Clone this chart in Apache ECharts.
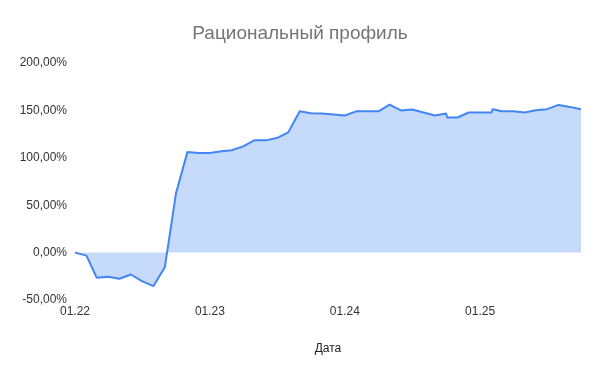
<!DOCTYPE html>
<html>
<head>
<meta charset="utf-8">
<script src="https://cdn.jsdelivr.net/npm/echarts@6/dist/echarts.min.js"></script>
<style>html,body{margin:0;padding:0;background:#fff}#c{width:600px;height:371px}</style>
</head>
<body>
<div id="c"></div>
<script>
var dates = ["2022-01-01","2022-02-01","2022-03-01","2022-04-01","2022-05-01","2022-06-01","2022-07-01","2022-08-01","2022-09-01","2022-10-01","2022-11-01","2022-12-01",
"2023-01-01","2023-02-01","2023-03-01","2023-04-01","2023-05-01","2023-06-01","2023-07-01","2023-08-01","2023-09-01","2023-10-01","2023-11-01","2023-12-01",
"2024-01-01","2024-02-01","2024-03-01","2024-04-01","2024-05-01","2024-06-01","2024-07-01","2024-08-01","2024-09-01","2024-10-01","2024-10-04","2024-11-01","2024-12-01",
"2025-01-01","2025-02-01","2025-02-04","2025-03-01","2025-04-01","2025-05-01","2025-06-01","2025-07-01","2025-08-01","2025-09-01","2025-10-01"];
var values = [0,-3.2,-26.6,-25.5,-27.6,-23.1,-30.1,-35.4,-15.5,62,106,105,
105,107,108,112,118.4,118.4,120.8,126.8,149,147,146.7,145.7,
144.6,149,149,149,156,150,151,147.8,144.6,146.7,142.5,142.5,147.8,
147.8,147.8,151.3,149.2,149.2,147.8,150.2,151.3,155.8,153.7,151.3];
var yTicks = [-50,0,50,100,150,200];
var xMin = "2022-01-01", xMax = "2025-10-01";

function toTs(s){var p=s.split('-');return new Date(+p[0],+p[1]-1,+p[2]).getTime();}
var data = dates.map(function(d,i){return [toTs(d), values[i]];});

var chart = echarts.init(document.getElementById('c'), null, {renderer:'canvas'});
chart.setOption({
  animation:false,
  title:{text:'Рациональный профиль',left:'center',top:19,textStyle:{fontFamily:'Liberation Sans, Arial, sans-serif',fontSize:19,fontWeight:'normal',color:'#757575'}},
  grid:{left:75,right:19,top:63,bottom:71,containLabel:false},
  xAxis:{
    type:'time',min:toTs(xMin),max:toTs(xMax),
    minInterval:365*86400000,maxInterval:366*86400000,
    name:'Дата',nameLocation:'middle',nameGap:43,
    nameTextStyle:{fontFamily:'Liberation Sans, Arial, sans-serif',fontSize:12,color:'#222'},
    axisLine:{show:false},axisTick:{show:false},splitLine:{show:false},
    axisLabel:{margin:6,fontFamily:'Liberation Sans, Arial, sans-serif',fontSize:12,color:'#333',hideOverlap:false,
      formatter:function(v){var d=new Date(v);var m=d.getMonth()+1;return (m<10?'0':'')+m+'.'+String(d.getFullYear()).slice(2);}}
  },
  yAxis:{
    type:'value',min:yTicks[0],max:yTicks[yTicks.length-1],interval:50,
    axisLine:{show:false},axisTick:{show:false},splitLine:{show:false},
    axisLabel:{margin:8,fontFamily:'Liberation Sans, Arial, sans-serif',fontSize:12,color:'#333',
      formatter:function(v){return v.toFixed(2).replace('.',',')+'%';}}
  },
  series:[{
    type:'line',data:data,showSymbol:false,symbol:'none',
    lineStyle:{color:'#4285f4',width:2},
    itemStyle:{color:'#4285f4'},
    areaStyle:{color:'#c6dafc',opacity:1,origin:0}
  }]
});
</script>
</body>
</html>
